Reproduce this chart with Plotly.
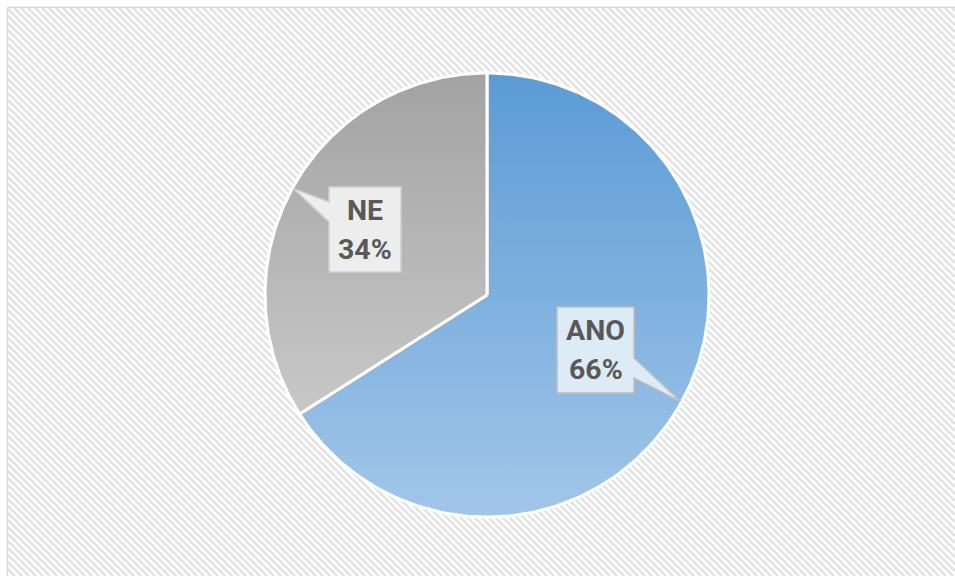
import numpy as np
import plotly.graph_objects as go

# ---- data -------------------------------------------------------------
labels = ["ANO", "NE"]
shares = [66, 34]

# ---- styling ----------------------------------------------------------
top_colors = ["#5B9BD5", "#A3A3A3"]
bottom_colors = ["#A2C6E9", "#D3D3D3"]
box_fills = ["#DDEBF7", "#EDEDED"]
box_lines = ["#BFBFBF", "#CFCFCF"]
text_color = "#595959"

W, H = 955, 576
CX, CY, R = 487, 295, 222          # pie centre / radius in pixels

# callout boxes (pixel rectangles: left, top, right, bottom) and pointer side
boxes = [
    dict(rect=(557, 307, 634, 393), side="right", attach=(358, 378)),
    dict(rect=(329, 187, 401, 272), side="left", attach=(202, 222)),
]


def u(px, py):
    """pixel position -> pie units (centre 0,0, radius 1, y up)"""
    return (px - CX) / R, (CY - py) / R


fig = go.Figure()

# ---- hatched background ----------------------------------------------
L, T = 8, 8
step = 7
segs = []
for c in range(L - H, W - T + step, step):
    y0 = max(T, L - c)
    y1 = min(H, W - c)
    if y1 <= y0:
        continue
    ax, ay = u(y0 + c, y0)
    bx, by = u(y1 + c, y1)
    segs.append(f"M{ax:.4f},{ay:.4f} L{bx:.4f},{by:.4f}")
fig.add_shape(type="path", path=" ".join(segs), xref="x", yref="y",
              line=dict(color="#E3E3E3", width=2.6), layer="below")

# frame (left and top edges)
bx0, by0 = u(7.5, 7.5)
bx1, _ = u(W + 5, 7.5)
_, by1 = u(7.5, H + 5)
fig.add_shape(type="line", x0=bx0, y0=by0, x1=bx1, y1=by0,
              line=dict(color="#D9D9D9", width=1.5), layer="below")
fig.add_shape(type="line", x0=bx0, y0=by0, x1=bx0, y1=by1,
              line=dict(color="#D9D9D9", width=1.5), layer="below")

# ---- pie slices (clockwise from 12 o'clock) -------------------------
total = sum(shares)
start = 0.0
mids = []
for i, v in enumerate(shares):
    span = 2 * np.pi * v / total
    th = np.linspace(start, start + span, 200)
    xs = np.concatenate([[0], np.sin(th), [0]])
    ys = np.concatenate([[0], np.cos(th), [0]])
    fig.add_trace(go.Scatter(
        x=xs, y=ys, mode="lines", fill="toself",
        fillgradient=dict(type="vertical", start=-1, stop=1,
                          colorscale=[[0, bottom_colors[i]], [1, top_colors[i]]]),
        line=dict(color="white", width=3),
        hoverinfo="skip", showlegend=False,
    ))
    mids.append(start + span / 2)
    start += span

# ---- callouts ---------------------------------------------------------
for i, (lab, v) in enumerate(zip(labels, shares)):
    b = boxes[i]
    l, t, r, btm = b["rect"]
    tipx, tipy = np.sin(mids[i]) * 0.995, np.cos(mids[i]) * 0.995
    a0, a1 = b["attach"]
    if b["side"] == "right":
        pts = [(l, t), (r, t), (r, a0), None, (r, a1), (r, btm), (l, btm)]
    else:
        pts = [(l, t), (r, t), (r, btm), (l, btm), (l, a1), None, (l, a0)]
    path = []
    for k, p in enumerate(pts):
        if p is None:
            px_, py_ = tipx, tipy
        else:
            px_, py_ = u(*p)
        path.append(("M" if k == 0 else "L") + f"{px_:.4f},{py_:.4f}")
    fig.add_shape(type="path", path=" ".join(path) + " Z", xref="x", yref="y",
                  fillcolor=box_fills[i], line=dict(color=box_lines[i], width=1.5),
                  layer="above")
    cx_, cy_ = u((l + r) / 2, (t + btm) / 2)
    for txt, dy in ((lab, -19.5), (f"{v}%", 19.5)):
        fig.add_annotation(x=cx_, y=cy_ - dy / R, text=txt, showarrow=False,
                           xanchor="center", yanchor="middle",
                           font=dict(family="Roboto", size=28.5, color=text_color,
                                     weight="bold"))

xr0, yr1 = u(0, 0)
xr1, yr0 = u(W, H)
fig.update_layout(
    width=W, height=H,
    margin=dict(l=0, r=0, t=0, b=0),
    paper_bgcolor="white", plot_bgcolor="white",
    xaxis=dict(range=[xr0, xr1], visible=False, fixedrange=True),
    yaxis=dict(range=[yr0, yr1], visible=False, fixedrange=True),
    showlegend=False,
)

fig.write_html("out.html")
